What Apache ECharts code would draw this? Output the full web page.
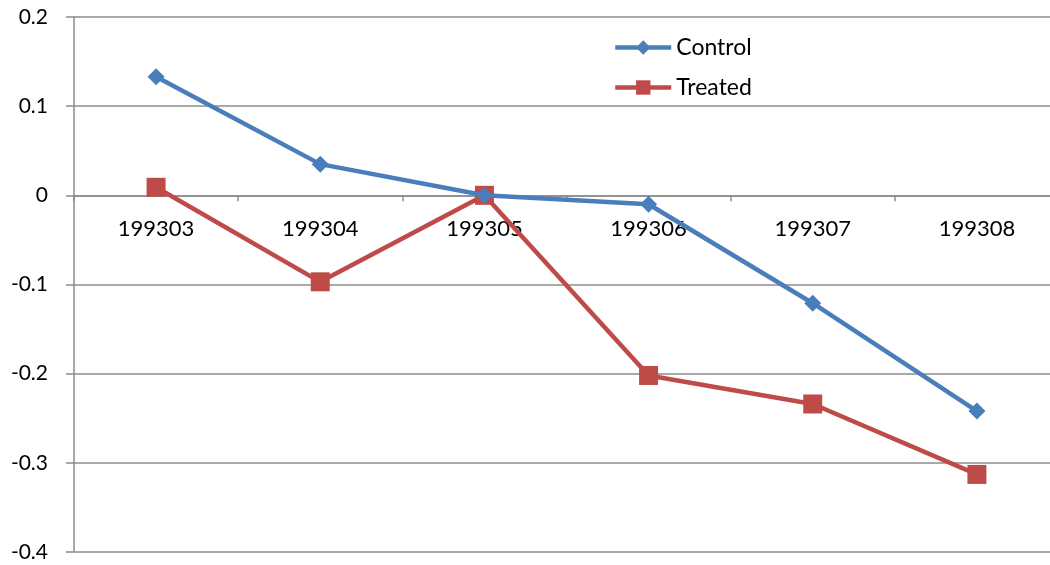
<!DOCTYPE html>
<html>
<head>
<meta charset="utf-8">
<script src="https://cdn.jsdelivr.net/npm/echarts@6/dist/echarts.min.js"></script>
<style>
  html, body { margin: 0; padding: 0; background: #fff; }
  #chart { width: 1050px; height: 565px; }
</style>
</head>
<body>
<div id="chart"></div>
<script>
var months = ['199303', '199304', '199305', '199306', '199307', '199308'];
var control = [0.133, 0.035, 0.0, -0.010, -0.121, -0.242];
var treated = [0.009, -0.097, 0.0, -0.202, -0.234, -0.313];
var yTicks = [-0.4, -0.3, -0.2, -0.1, 0, 0.1, 0.2];

var chartElem = document.getElementById('chart');
var chart = echarts.init(chartElem);
var fontFam = 'Lato, "Liberation Sans", sans-serif';

var gridTop = 17, gridBottom = 13;
var yMin = yTicks[0], yMax = yTicks[yTicks.length - 1];
// move the category axis up to the zero line (like Excel)
var plotH = 565 - gridTop - gridBottom;
var zeroOffset = -plotH * (0 - yMin) / (yMax - yMin);

chart.setOption({
  animation: false,
  color: ['#4a7ebb', '#be4b48'],
  grid: {
    left: 74,
    right: -9,
    top: gridTop,
    bottom: gridBottom,
    outerBoundsMode: 'none',
    containLabel: false
  },
  legend: {
    orient: 'vertical',
    left: 608,
    top: 31,
    itemWidth: 56,
    itemHeight: 18,
    itemGap: 17,
    lineStyle: { width: 4.5 },
    textStyle: { fontSize: 23, color: '#000', fontFamily: fontFam },
    data: ['Control', 'Treated']
  },
  xAxis: {
    type: 'category',
    data: months,
    offset: zeroOffset,
    axisLine: { onZero: false, lineStyle: { color: '#8c8c8c', width: 1.5 } },
    axisTick: { show: true, length: 6, lineStyle: { color: '#8c8c8c', width: 1.5 } },
    axisLabel: { margin: 23, fontSize: 22, color: '#000', fontFamily: fontFam }
  },
  yAxis: {
    type: 'value',
    min: yMin,
    max: yMax,
    interval: 0.1,
    axisLine: { show: true, lineStyle: { color: '#8c8c8c', width: 1.5 } },
    axisTick: { show: true, length: 8, lineStyle: { color: '#8c8c8c', width: 1.5 } },
    axisLabel: {
      margin: 26,
      fontSize: 21,
      color: '#000',
      fontFamily: fontFam,
      formatter: function (v) { return Math.round(v * 10) / 10 + ''; }
    },
    splitLine: { lineStyle: { color: '#8c8c8c', width: 1.5 } }
  },
  series: [
    {
      name: 'Control',
      type: 'line',
      data: control,
      symbol: 'diamond',
      symbolSize: 17,
      lineStyle: { width: 4.5 },
      z: 3
    },
    {
      name: 'Treated',
      type: 'line',
      data: treated,
      symbol: 'rect',
      symbolSize: 19,
      lineStyle: { width: 4.5 },
      z: 2
    }
  ]
});
</script>
</body>
</html>
